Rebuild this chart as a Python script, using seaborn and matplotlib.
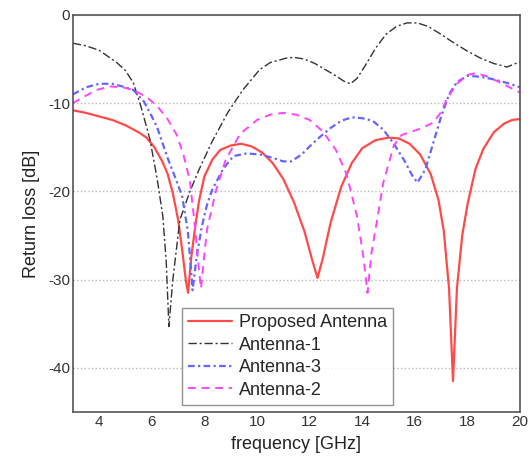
import numpy as np
import pandas as pd
import matplotlib
matplotlib.use("Agg")
import matplotlib.pyplot as plt
import seaborn as sns

# frequency / return loss
freq_prop = [3.0, 3.5, 4.0, 4.5, 5.0, 5.5, 5.8, 6.1, 6.4, 6.6, 6.8, 7.0, 7.15, 7.3, 7.38,
             7.5, 7.65, 7.8, 8.0, 8.3, 8.6, 9.0, 9.4, 9.8, 10.2, 10.6, 11.0, 11.4, 11.8,
             12.1, 12.3, 12.5, 12.8, 13.2, 13.6, 14.0, 14.5, 15.0, 15.4, 15.8, 16.2, 16.6,
             16.9, 17.1, 17.3, 17.45, 17.6, 17.8, 18.0, 18.3, 18.6, 19.0, 19.4, 19.7, 20.0]
rl_prop = [-10.8, -11.1, -11.5, -11.9, -12.5, -13.3, -13.9, -15.0, -16.6, -18.0, -20.2,
           -23.2, -26.5, -30.2, -31.5, -27.5, -24.0, -21.0, -18.3, -16.4, -15.3, -14.8,
           -14.6, -14.9, -15.6, -16.8, -18.6, -21.2, -24.5, -27.8, -29.8, -27.6, -23.5,
           -19.5, -16.8, -15.1, -14.2, -13.9, -14.0, -14.6, -15.8, -18.0, -21.0, -24.5,
           -31.0, -41.5, -31.0, -25.0, -21.5, -17.5, -15.2, -13.3, -12.3, -11.9, -11.8]

freq_a1 = [3.0, 3.5, 4.0, 4.67, 5.0, 5.3, 5.6, 5.93, 6.2, 6.42, 6.55, 6.65, 6.8, 7.07,
           7.45, 7.8, 8.3, 8.9, 9.46, 10.1, 10.5, 11.1, 11.4, 11.8, 12.2, 12.6, 13.0,
           13.3, 13.55, 13.8, 14.1, 14.5, 14.9, 15.3, 15.7, 16.1, 16.5, 17.0, 17.5,
           18.0, 18.5, 19.0, 19.5, 20.0]
rl_a1 = [-3.2, -3.5, -4.0, -5.4, -6.3, -7.7, -10.5, -14.1, -18.5, -22.8, -28.0, -35.3,
         -30.0, -23.2, -20.0, -17.5, -14.3, -11.0, -8.5, -6.2, -5.4, -4.9, -4.8, -5.0,
         -5.5, -6.2, -6.9, -7.5, -7.8, -7.2, -5.8, -3.8, -2.2, -1.3, -0.9, -0.9, -1.3,
         -2.2, -3.2, -4.1, -4.9, -5.5, -5.9, -5.3]

freq_a3 = [3.0, 3.5, 4.0, 4.5, 5.0, 5.3, 5.7, 6.0, 6.2, 6.6, 6.9, 7.15, 7.37, 7.47, 7.55,
           7.7, 7.9, 8.1, 8.3, 8.7, 9.1, 9.6, 10.1, 10.6, 11.0, 11.3, 11.7, 12.0, 12.4,
           12.8, 13.2, 13.6, 14.0, 14.4, 14.8, 15.2, 15.6, 15.9, 16.1, 16.4, 16.7, 17.0,
           17.3, 17.6, 18.0, 18.5, 19.0, 19.5, 20.0]
rl_a3 = [-9.0, -8.2, -7.8, -7.8, -8.2, -8.5, -9.8, -11.5, -12.7, -16.2, -18.5, -20.5,
         -24.5, -28.0, -31.2, -27.5, -24.0, -21.5, -19.8, -17.5, -16.0, -15.7, -15.8,
         -16.2, -16.6, -16.6, -15.8, -14.9, -13.8, -12.8, -12.0, -11.6, -11.7, -12.0,
         -13.0, -14.6, -16.5, -18.2, -19.0, -17.5, -14.5, -11.5, -9.0, -7.6, -6.9,
         -7.0, -7.3, -7.7, -8.2]

freq_a2 = [3.0, 3.4, 3.9, 4.4, 4.9, 5.3, 5.8, 6.2, 6.6, 6.95, 7.2, 7.45, 7.64, 7.78,
           7.87, 7.97, 8.1, 8.45, 8.8, 9.35, 10.0, 10.5, 11.0, 11.5, 12.0, 12.5, 13.0,
           13.4, 13.8, 14.05, 14.2, 14.35, 14.55, 14.8, 15.2, 15.5, 15.8, 16.2, 16.7,
           17.0, 17.2, 17.6, 18.0, 18.3, 18.7, 19.2, 19.6, 20.0]
rl_a2 = [-10.0, -9.3, -8.5, -8.1, -8.2, -8.5, -9.3, -10.3, -11.8, -13.6, -15.8, -18.8,
         -24.0, -28.5, -31.0, -28.0, -24.3, -19.8, -16.5, -13.5, -11.9, -11.3, -11.1,
         -11.3, -11.9, -13.2, -15.3, -18.0, -22.8, -27.5, -31.5, -27.0, -23.5, -19.0,
         -14.8, -13.6, -13.3, -12.9, -12.2, -11.0, -9.6, -7.8, -6.8, -6.6, -6.9, -7.6,
         -8.2, -8.8]

sns.set_style("white")
plt.rcParams['font.family'] = ['Liberation Sans', 'DejaVu Sans']
plt.rcParams['axes.unicode_minus'] = False

fig = plt.figure(figsize=(5.28, 4.59), dpi=100)
ax = fig.add_axes([0.138, 0.1024, 0.847, 0.865])

sns.lineplot(x=freq_prop, y=rl_prop, ax=ax, color='#ff4a4a', lw=1.6,
             label='Proposed Antenna', sort=False)
sns.lineplot(x=freq_a1, y=rl_a1, ax=ax, color='#333333', lw=1.0,
             linestyle=(0, (6, 2, 1.5, 2)), label='Antenna-1', sort=False)
sns.lineplot(x=freq_a3, y=rl_a3, ax=ax, color='#6464ff', lw=1.6,
             linestyle=(0, (3, 1.5, 1, 1.5)), label='Antenna-3', sort=False)
sns.lineplot(x=freq_a2, y=rl_a2, ax=ax, color='#ff44ff', lw=1.4,
             linestyle=(0, (4, 3)), label='Antenna-2', sort=False)

ax.set_xlim(3, 20)
ax.set_ylim(-45, 0)
ax.set_xticks(range(4, 21, 2))
ax.set_yticks([0, -10, -20, -30, -40])
ax.yaxis.grid(True, linestyle=':', color='#bbbbbb', lw=1)
ax.xaxis.grid(False)
for s in ax.spines.values():
    s.set_color('#555555')
    s.set_linewidth(1.2)
ax.tick_params(direction='in', length=3, labelsize=11, colors='#333333', pad=2)

ax.set_xlabel('frequency [GHz]', fontsize=13, color='#222222', labelpad=5)
ax.set_ylabel('Return loss [dB]', fontsize=13, color='#222222', labelpad=6)

leg = ax.legend(loc='lower left', bbox_to_anchor=(0.244, 0.018), fontsize=13,
                handlelength=2.4, frameon=True, fancybox=False, borderaxespad=0,
                labelspacing=0.3, handletextpad=0.4, borderpad=0.35)
leg.get_frame().set_edgecolor('#777777')
leg.get_frame().set_linewidth(1.0)

fig.savefig('out.png', dpi=100)
